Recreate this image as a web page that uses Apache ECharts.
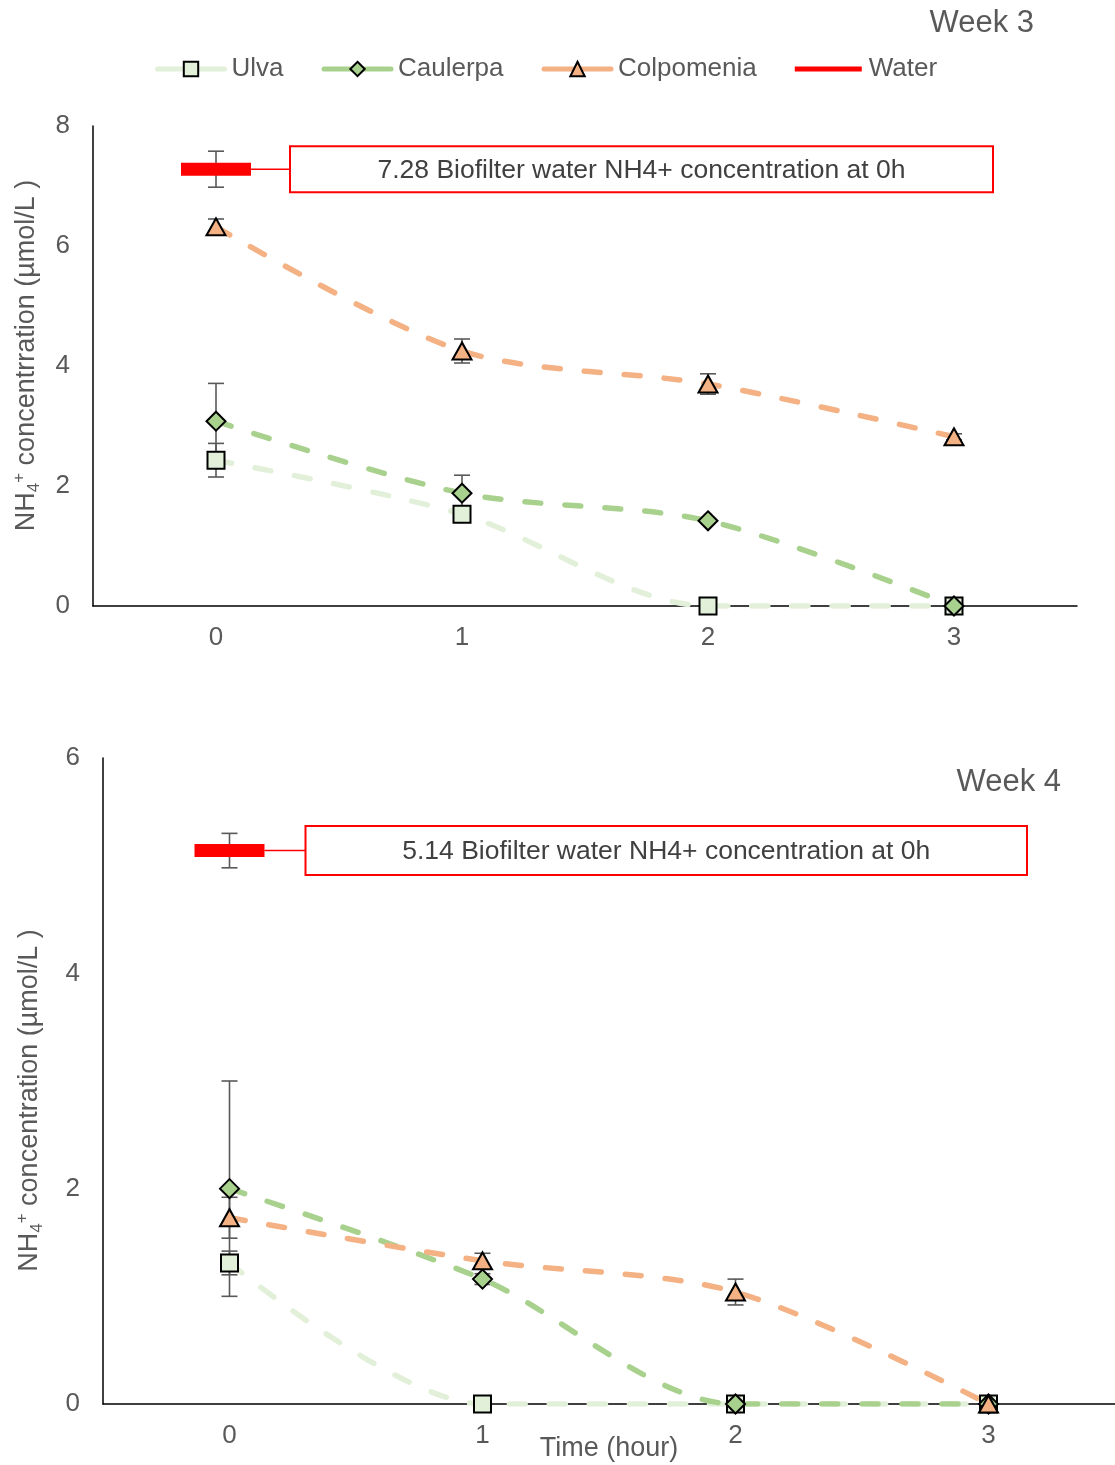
<!DOCTYPE html>
<html><head><meta charset="utf-8">
<script src="https://cdn.jsdelivr.net/npm/echarts@6/dist/echarts.min.js"></script>
<style>html,body{margin:0;padding:0;background:#fff}#c{width:1115px;height:1465px}</style>
</head><body><div id="c"></div>
<script>
// ---------- data ----------
const hours = ['0', '1', '2', '3'];
const seriesNames = ['Ulva', 'Caulerpa', 'Colpomenia', 'Water'];
// Week 3 (mean, standard error)
const w3Ulva = [2.43, 1.53, 0, 0];
const w3UlvaErr = [0.28, 0.05, 0, 0];
const w3Caulerpa = [3.08, 1.88, 1.42, 0];
const w3CaulerpaErr = [0.63, 0.30, 0.03, 0];
const w3Colpomenia = [6.32, 4.25, 3.70, 2.82];
const w3ColpomeniaErr = [0.13, 0.20, 0.17, 0.05];
const w3Water = 7.28;
const w3WaterErr = 0.30;
// Week 4
const w4Ulva = [1.31, 0, 0, 0];
const w4UlvaErr = [0.11, 0, 0, 0];
const w4Caulerpa = [2.00, 1.16, 0, 0];
const w4CaulerpaErr = [1.00, 0.05, 0, 0];
const w4Colpomenia = [1.73, 1.33, 1.04, 0];
const w4ColpomeniaErr = [0.19, 0.07, 0.12, 0];
const w4Water = 5.14;
const w4WaterErr = 0.16;
const w3YMax = 8, w4YMax = 6, yStep = 2;
const w3Note = '7.28 Biofilter water NH4+ concentration at 0h';
const w4Note = '5.14 Biofilter water NH4+ concentration at 0h';

// ---------- styles ----------
const FONT = '"Liberation Sans", Arial, sans-serif';
const TXT = '#595959';
const FS = 26;
const colors = { Ulva: '#E2F0D9', Caulerpa: '#A9D18E', Colpomenia: '#F4B183', Water: '#FF0000' };
const symbols = { Ulva: ['rect', 17], Caulerpa: ['diamond', 19], Colpomenia: ['triangle', [19, 17]] };

function lineSeries(name, vals, gi) {
  return {
    type: 'line', name, xAxisIndex: gi, yAxisIndex: gi,
    data: vals, smooth: 0.3, symbol: symbols[name][0], symbolSize: symbols[name][1],
    showAllSymbol: true,
    lineStyle: { color: colors[name], width: 5.5, type: [16, 24], cap: 'round' },
    itemStyle: { color: colors[name], borderColor: '#000', borderWidth: 2, opacity: 1 },
    z: 3
  };
}
function errSeries(name, vals, errs, gi) {
  const d = vals.map((v, i) => [i, v, errs[i]]).filter(r => r[2] > 0);
  return {
    type: 'custom', name: name + ' error', xAxisIndex: gi, yAxisIndex: gi, z: 2, silent: true,
    data: d,
    renderItem: function (params, api) {
      const x = api.value(0), v = api.value(1), e = api.value(2);
      const hi = api.coord([x, v + e]), lo = api.coord([x, v - e]);
      const st = { stroke: '#595959', lineWidth: 1.6 };
      const c = 8;
      return { type: 'group', children: [
        { type: 'line', shape: { x1: hi[0], y1: hi[1], x2: lo[0], y2: lo[1] }, style: st },
        { type: 'line', shape: { x1: hi[0] - c, y1: hi[1], x2: hi[0] + c, y2: hi[1] }, style: st },
        { type: 'line', shape: { x1: lo[0] - c, y1: lo[1], x2: lo[0] + c, y2: lo[1] }, style: st }
      ] };
    }
  };
}
function waterSeries(val, gi) {
  return { type: 'scatter', name: 'Water', xAxisIndex: gi, yAxisIndex: gi, data: [[0, val]],
    symbol: 'rect', symbolSize: [70, 13], itemStyle: { color: colors.Water, opacity: 1 }, z: 4 };
}
function xAxis(gi) {
  return { type: 'category', gridIndex: gi, data: hours, boundaryGap: true,
    axisLine: { lineStyle: { color: '#000', width: 1.5 } }, axisTick: { show: false },
    axisLabel: { color: TXT, fontSize: FS, fontFamily: FONT, margin: 19 },
    splitLine: { show: false } };
}
function yAxis(gi, max, word, gap, padStart, padEnd) {
  return { type: 'value', gridIndex: gi, min: 0, max: max, interval: yStep,
    axisLine: { show: true, lineStyle: { color: '#000', width: 1.5 } }, axisTick: { show: false },
    axisLabel: { color: TXT, fontSize: FS, fontFamily: FONT, margin: 23 },
    splitLine: { show: false },
    name: '{p0| }{a|NH}{sub|4}{sup|+}{a| ' + word + ' (µmol/L )}{p1| }',
    nameLocation: 'middle', nameGap: gap, nameRotate: 90, nameMoveOverlap: false,
    nameTextStyle: { rich: {
      a: { fontSize: 27, color: TXT, fontFamily: FONT, lineHeight: 32 },
      sub: { fontSize: 17, color: TXT, fontFamily: FONT, verticalAlign: 'bottom', lineHeight: 17 },
      sup: { fontSize: 17, color: TXT, fontFamily: FONT, verticalAlign: 'top', lineHeight: 17 },
      p0: { width: padStart, fontSize: 10, lineHeight: 10 },
      p1: { width: padEnd, fontSize: 10, lineHeight: 10 }
    } } };
}

const chart = echarts.init(document.getElementById('c'), null, { renderer: 'canvas' });
const xa1 = xAxis(1);
xa1.name = 'Time (hour)'; xa1.nameLocation = 'middle'; xa1.nameGap = 31; xa1.nameMoveOverlap = false;
xa1.nameTextStyle = { color: TXT, fontSize: 27, fontFamily: FONT };

chart.setOption({
  animation: false,
  backgroundColor: '#fff',
  textStyle: { fontFamily: FONT },
  legend: {
    data: [
      { name: 'Ulva' }, { name: 'Caulerpa' }, { name: 'Colpomenia' },
      { name: 'Water', icon: 'path://M0,0L70,0L70,5L0,5Z' }
    ],
    left: 150, top: 51, itemWidth: 67, itemHeight: 18, itemGap: 38,
    lineStyle: { type: 'solid', width: 5 },
    textStyle: { color: TXT, fontSize: FS, fontFamily: FONT, padding: [0, 0, 0, 2] },
    selectedMode: false
  },
  grid: [
    { left: 93, top: 126, width: 984, height: 480, outerBoundsMode: 'none', containLabel: false },
    { left: 103, top: 758, width: 1012, height: 646, outerBoundsMode: 'none', containLabel: false }
  ],
  xAxis: [xAxis(0), xa1],
  yAxis: [yAxis(0, w3YMax, 'concentrration', 50, 22, 1), yAxis(1, w4YMax, 'concentration', 57, 1, 40)],
  series: [
    errSeries('Ulva', w3Ulva, w3UlvaErr, 0),
    errSeries('Caulerpa', w3Caulerpa, w3CaulerpaErr, 0),
    errSeries('Colpomenia', w3Colpomenia, w3ColpomeniaErr, 0),
    errSeries('Water', [w3Water], [w3WaterErr], 0),
    lineSeries('Ulva', w3Ulva, 0),
    lineSeries('Caulerpa', w3Caulerpa, 0),
    lineSeries('Colpomenia', w3Colpomenia, 0),
    waterSeries(w3Water, 0),
    errSeries('Ulva', w4Ulva, w4UlvaErr, 1),
    errSeries('Caulerpa', w4Caulerpa, w4CaulerpaErr, 1),
    errSeries('Colpomenia', w4Colpomenia, w4ColpomeniaErr, 1),
    errSeries('Water', [w4Water], [w4WaterErr], 1),
    lineSeries('Ulva', w4Ulva, 1),
    lineSeries('Caulerpa', w4Caulerpa, 1),
    lineSeries('Colpomenia', w4Colpomenia, 1),
    waterSeries(w4Water, 1)
  ]
});

// annotations tied to the water points
const p3 = chart.convertToPixel({ xAxisIndex: 0, yAxisIndex: 0 }, [0, w3Water]);
const p4 = chart.convertToPixel({ xAxisIndex: 1, yAxisIndex: 1 }, [0, w4Water]);
function note(p, boxLeft, boxRight, h, text) {
  const top = p[1] - h / 2;
  return [
    { type: 'line', shape: { x1: p[0] + 35, y1: p[1], x2: boxLeft, y2: p[1] },
      style: { stroke: '#FF0000', lineWidth: 1.5 }, z: 10 },
    { type: 'rect', shape: { x: boxLeft, y: top, width: boxRight - boxLeft, height: h },
      style: { fill: '#fff', stroke: '#FF0000', lineWidth: 2 }, z: 10 },
    { type: 'text', x: (boxLeft + boxRight) / 2, y: p[1] + 1, z: 11,
      style: { text: text, fill: '#404040', fontSize: 26.5, fontFamily: FONT, align: 'center', verticalAlign: 'middle' } }
  ];
}
chart.setOption({
  graphic: [
    ...note(p3, p3[0] + 74, 993, 46, w3Note),
    ...note(p4, p4[0] + 76, 1027, 49, w4Note),
    { type: 'text', x: 1034, y: 23, style: { text: 'Week 3', fill: TXT, fontSize: 31, fontFamily: FONT, align: 'right', verticalAlign: 'middle' } },
    { type: 'text', x: 1061, y: 782, style: { text: 'Week 4', fill: TXT, fontSize: 31, fontFamily: FONT, align: 'right', verticalAlign: 'middle' } }
  ]
});
</script>
</body></html>
